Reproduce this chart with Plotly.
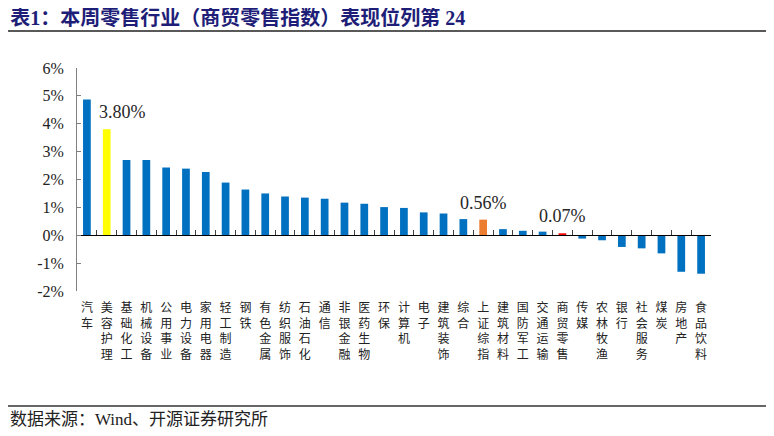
import plotly.graph_objects as go

categories = ["汽车", "美容护理", "基础化工", "机械设备", "公用事业", "电力设备", "家用电器", "轻工制造",
              "钢铁", "有色金属", "纺织服饰", "石油石化", "通信", "非银金融", "医药生物", "环保",
              "计算机", "电子", "建筑装饰", "综合", "上证综指", "建筑材料", "国防军工", "交通运输",
              "商贸零售", "传媒", "农林牧渔", "银行", "社会服务", "煤炭", "房地产", "食品饮料"]
values = [4.87, 3.80, 2.70, 2.70, 2.43, 2.39, 2.27, 1.89,
          1.64, 1.50, 1.39, 1.35, 1.31, 1.17, 1.13, 1.01,
          0.98, 0.82, 0.78, 0.58, 0.56, 0.22, 0.16, 0.13,
          0.07, -0.12, -0.18, -0.42, -0.47, -0.65, -1.31, -1.38]
highlight_colors = {"美容护理": "#FFFF00", "上证综指": "#ED7D31", "商贸零售": "#FF0000"}
labelled = ["美容护理", "上证综指", "商贸零售"]
y_ticks = [-2, -1, 0, 1, 2, 3, 4, 5, 6]
y_ticktext = [f"{v}%" for v in y_ticks]

title_text = "表1：本周零售行业（商贸零售指数）表现位列第 24"
source_text = "数据来源：Wind、开源证券研究所"

BLUE = "#0070C0"
colors = [highlight_colors.get(c, BLUE) for c in categories]
ticktext = ["<br>".join(list(c)) for c in categories]

SERIF = "Liberation Serif, Times New Roman, Noto Sans CJK SC"

fig = go.Figure()
fig.add_trace(go.Bar(x=categories, y=values, marker=dict(color=colors, line=dict(width=0)),
                     width=0.39, hoverinfo="x+y"))
# invisible trace that carries the zero-line axis with its tick marks
fig.add_trace(go.Scatter(x=categories, y=[0] * len(categories), xaxis="x2", yaxis="y",
                         mode="markers", marker=dict(opacity=0), hoverinfo="skip", showlegend=False))

n = len(categories)
# the page body has an 8px margin, so the figure is sized to end at the window edge
fig.update_layout(
    width=766, height=428,
    margin=dict(l=69, r=63, t=60, b=145),
    paper_bgcolor="white", plot_bgcolor="white",
    showlegend=False,
    title=dict(text=title_text, xref="container", yref="container", x=0.003, y=0.992,
               xanchor="left", yanchor="top",
               font=dict(family=SERIF, size=20, color="#1E1E78", weight="bold")),
    xaxis=dict(type="category", range=[-0.5, n - 0.5], showline=False, ticks="",
               tickvals=categories, ticktext=ticktext, tickangle=0,
               tickfont=dict(family="Noto Sans CJK SC", size=12, color="#222222"),
               ticklabelstandoff=8, showgrid=False, zeroline=False, automargin=False),
    xaxis2=dict(type="category", overlaying="x", anchor="free", position=0.25,
                range=[-0.5, n - 0.5], showline=True, linecolor="#000000", linewidth=1,
                ticks="inside", tickson="boundaries", ticklen=5, tickcolor="#404040",
                showticklabels=False, showgrid=False, zeroline=False),
    yaxis=dict(range=[-2, 6], tickvals=y_ticks, ticktext=y_ticktext,
               showline=True, linecolor="#808080", linewidth=1,
               ticks="inside", ticklen=4, tickcolor="#808080",
               tickfont=dict(family=SERIF, size=16, color="#222222"),
               ticklabelstandoff=9, showgrid=False, zeroline=False, automargin=False),
)

for c in labelled:
    v = values[categories.index(c)]
    fig.add_annotation(x=c, y=v, xref="x", yref="y", text=f"{v:.2f}%", showarrow=False,
                       yshift=17, xshift=16 if c == "美容护理" else 0,
                       yanchor="middle", xanchor="center",
                       font=dict(family=SERIF, size=18, color="#262626"))

# header and footer rules
fig.add_shape(type="line", xref="paper", yref="paper", x0=-0.1088, x1=1.0899, y0=1.1659, y1=1.1659,
              line=dict(color="#595959", width=2))
fig.add_shape(type="line", xref="paper", yref="paper", x0=-0.1088, x1=1.0899, y0=-0.5157, y1=-0.5157,
              line=dict(color="#333333", width=1.5))
fig.add_annotation(text=source_text, xref="paper", yref="paper", x=-0.1088, y=-0.574,
                   xanchor="left", yanchor="middle", showarrow=False,
                   font=dict(family=SERIF, size=17, color="#222222"))

fig.write_html("out.html")
